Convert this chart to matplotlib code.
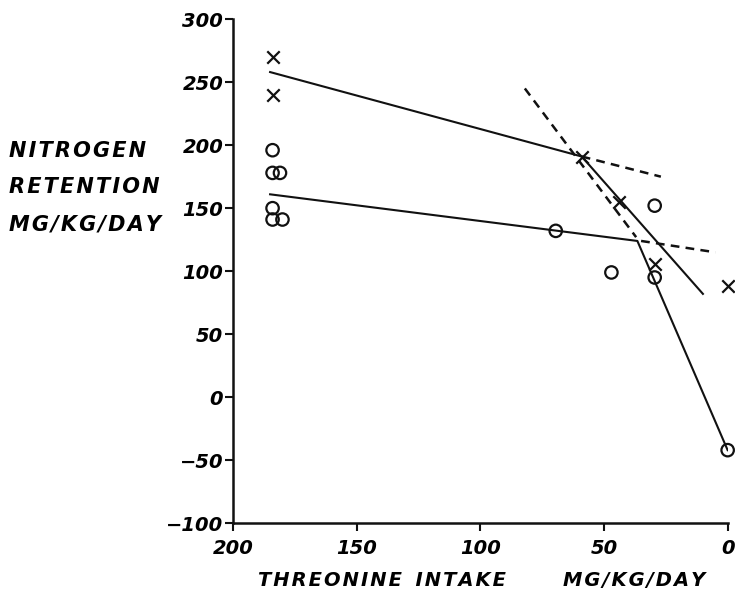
import matplotlib
matplotlib.use("Agg")
from matplotlib import pyplot as plt

# threonine intake (mg/kg/day) vs nitrogen retention (mg/kg/day)
x_cross = [184, 184, 59, 44, 29.5, 0]
y_cross = [270, 240, 191, 155, 106, 88]
x_circle = [184, 184, 181, 184, 184, 180, 69.5, 47, 29.5, 29.5, 0]
y_circle = [196, 178, 178, 150, 141, 141, 132, 99, 152, 95, -42]

# fitted broken lines
upper_x = [185, 59, 10]
upper_y = [258, 191, 82]
lower_x = [185, 36.5, 0]
lower_y = [161, 124, -42]

# dashed extrapolations
steep_dash_x = [82, 37]
steep_dash_y = [245, 127]
upper_dash_x = [59, 27]
upper_dash_y = [191, 175]
lower_dash_x = [35, 5]
lower_dash_y = [124, 115]

xticks = [200, 150, 100, 50, 0]
xticklabels = ["200", "150", "100", "50", "0"]
yticks = [300, 250, 200, 150, 100, 50, 0, -50, -100]
yticklabels = ["300", "250", "200", "150", "100", "50", "0", "\u221250", "\u2212100"]

font = dict(family="DejaVu Sans", fontweight="bold", fontstyle="italic")


def spaced(s):
    # hand-lettered look: a hair space between letters
    return "\u200a".join(s)


fig = plt.figure(figsize=(7.35, 5.98), dpi=100)
ax = fig.add_axes([0.317, 0.125, 0.673, 0.843])

ax.plot(upper_x, upper_y, color="#111111", lw=1.5)
ax.plot(lower_x, lower_y, color="#111111", lw=1.5)
for dx, dy in [(steep_dash_x, steep_dash_y), (upper_dash_x, upper_dash_y),
               (lower_dash_x, lower_dash_y)]:
    ax.plot(dx, dy, color="#111111", lw=1.8, ls=(0, (3.5, 2.5)))

ax.scatter(x_cross, y_cross, marker="x", s=80, color="#111111",
           linewidths=1.6, clip_on=False, zorder=3)
ax.scatter(x_circle, y_circle, marker="o", s=80, facecolors="none",
           edgecolors="#111111", linewidths=1.6, clip_on=False, zorder=3)

ax.set_xlim(200, 0)
ax.set_ylim(-100, 300)
ax.set_xticks(xticks)
ax.set_xticklabels(xticklabels, fontsize=14, **font)
ax.set_yticks(yticks)
ax.set_yticklabels(yticklabels, fontsize=14, **font)
ax.tick_params(axis="both", direction="out", length=6, width=1.5, color="#111111")
ax.tick_params(axis="x", pad=5)
ax.tick_params(axis="y", pad=1)

for side in ["top", "right"]:
    ax.spines[side].set_visible(False)
for side in ["left", "bottom"]:
    ax.spines[side].set_linewidth(1.8)
    ax.spines[side].set_color("#111111")

for text, ypos in [("NITROGEN", 0.748), ("RETENTION", 0.687), ("MG/KG/DAY", 0.624)]:
    fig.text(0.012, ypos, spaced(text), fontsize=15, ha="left", va="center", **font)

fig.text(0.351, 0.03, spaced("THREONINE") + "  " + spaced("INTAKE"), fontsize=14,
         ha="left", va="center", **font)
fig.text(0.766, 0.03, spaced("MG/KG/DAY"), fontsize=14,
         ha="left", va="center", **font)

fig.savefig("out.png", dpi=100)
